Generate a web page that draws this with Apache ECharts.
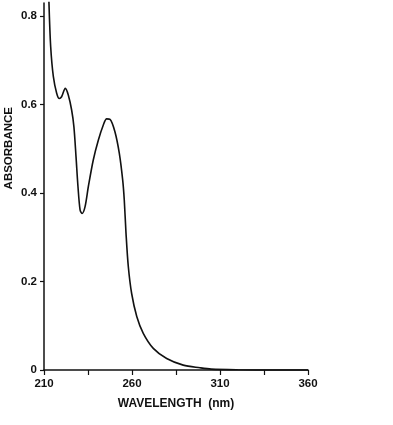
<!DOCTYPE html>
<html><head><meta charset="utf-8">
<script src="https://cdn.jsdelivr.net/npm/echarts@6/dist/echarts.min.js"></script>
<style>html,body{margin:0;padding:0;background:#fff}#c{width:393px;height:425px}</style>
</head><body><div id="c"></div>
<script>
const wavelengths = [212.8,213.8,215.3,217.2,218.7,220.0,222.1,223.8,225.7,227.0,228.2,229.3,230.5,231.6,233.3,235.2,238.0,240.9,243.7,245.6,247.5,250.3,252.8,254.7,255.6,256.6,257.9,259.8,262.7,266.4,272.1,279.7,289.1,298.6,305,320,340,360];
const absorbance = [0.833,0.731,0.664,0.626,0.614,0.618,0.637,0.622,0.588,0.550,0.482,0.415,0.362,0.354,0.369,0.415,0.475,0.520,0.554,0.568,0.567,0.539,0.490,0.430,0.385,0.309,0.234,0.173,0.121,0.083,0.049,0.026,0.011,0.005,0.002,0.0005,0,0];
const xTicks = [210,260,310,360];
const xMinorTicks = [235,285,335];
const yTicks = [0,0.2,0.4,0.6,0.8];
const xTitle = 'WAVELENGTH  (nm)';
const yTitle = 'ABSORBANCE';

const chart = echarts.init(document.getElementById('c'), null, {renderer:'canvas'});
const font = '"Liberation Sans", Arial, sans-serif';
chart.setOption({
  animation:false,
  backgroundColor:'#fff',
  grid:{left:44,right:85,top:3,bottom:55,containLabel:false},
  xAxis:{type:'value',min:210,max:360,
    axisLine:{lineStyle:{color:'#111',width:1.5}},
    axisTick:{show:true,length:5,lineStyle:{color:'#111',width:1.2},customValues:xTicks.concat(xMinorTicks)},
    axisLabel:{customValues:xTicks,color:'#111',fontWeight:'bold',fontSize:11.5,fontFamily:font,margin:8},
    splitLine:{show:false},
    name:xTitle,nameLocation:'middle',nameGap:28,
    nameTextStyle:{color:'#111',fontWeight:'bold',fontSize:12,fontFamily:font}
  },
  yAxis:{type:'value',min:0,max:0.83,
    axisLine:{show:true,lineStyle:{color:'#111',width:1.5}},
    axisTick:{show:true,length:4,lineStyle:{color:'#111',width:1.2},customValues:yTicks},
    axisLabel:{customValues:yTicks,color:'#111',fontWeight:'bold',fontSize:11.5,fontFamily:font,margin:7,
      formatter:v=>v===0?'0':v.toFixed(1)},
    splitLine:{show:false}
  },
  graphic:[{type:'text',left:3,top:107,rotation:Math.PI/2,
    style:{text:yTitle,fill:'#111',font:'bold 11.5px '+font}}],
  series:[{type:'line',data:wavelengths.map((w,i)=>[w,absorbance[i]]),smooth:0.3,symbol:'none',
    lineStyle:{color:'#111',width:1.6},clip:false}]
});
</script></body></html>
